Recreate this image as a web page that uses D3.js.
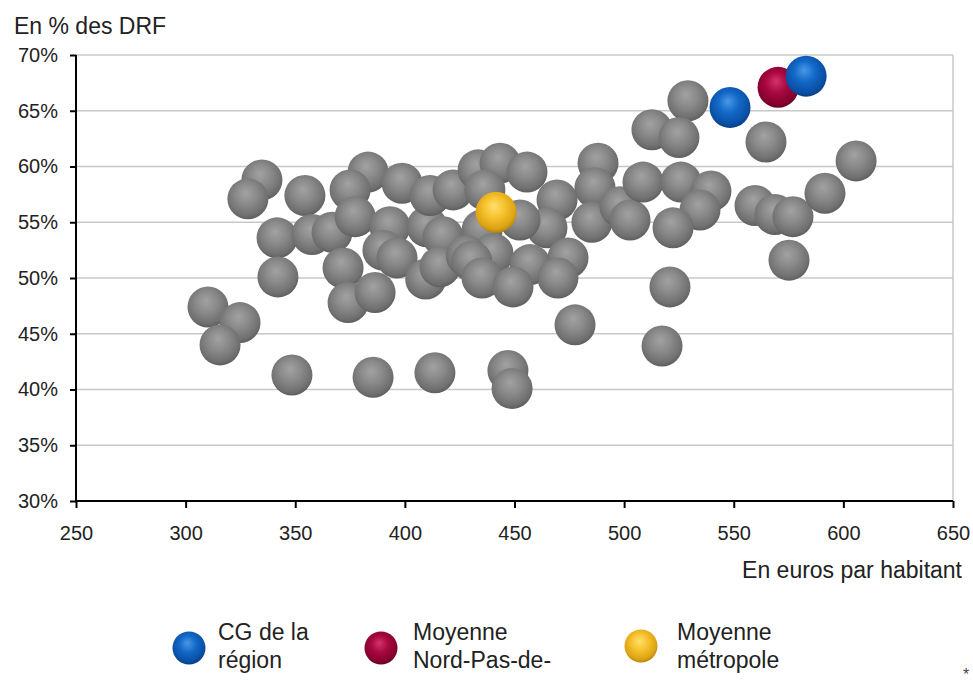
<!DOCTYPE html>
<html><head><meta charset="utf-8">
<script src="https://cdn.jsdelivr.net/npm/d3@7"></script>
<style>
html,body{margin:0;padding:0;background:#fff;}
svg{display:block;font-family:"Liberation Sans",Arial,sans-serif;}
</style></head>
<body><svg id="chart" width="973" height="683"></svg>
<script>
// ---- data ----
const xTicks = [250,300,350,400,450,500,550,600,650];
const yTicks = [0.30,0.35,0.40,0.45,0.50,0.55,0.60,0.65,0.70];
const yTitle = "En % des DRF";
const xTitle = "En euros par habitant";

// other departments (grey)
const grayX = [310.2,324.8,315.7,334.8,328.4,354.4,341.7,342.1,348.5,357.6,366.8,371.8,374.1,386.4,383.2,375.0,377.3,385.5,393.2,390.0,396.4,398.7,409.5,413.7,410.1,
  411.5,422.0,433.4,443.4,455.7,436.5,469.4,464.8,488.1,486.7,485.3,498.1,502.7,508.6,417.4,435.2,452.5,474.4,440.2,457.1,416.0,428.0,430.5,435.2,449.3,469.8,477.6,447.0,448.9,
  512.7,529.1,525.0,564.7,605.8,525.9,539.6,534.6,522.3,559.7,568.8,577.0,591.6,575.2,520.9,517.3];
const grayY = [47.4,46.0,44.0,58.8,57.1,57.4,53.6,50.1,41.3,53.9,54.1,50.9,47.8,48.7,59.5,57.9,55.5,41.1,54.6,52.5,51.8,58.5,49.9,41.5,54.6,
  57.4,57.9,59.7,60.3,59.5,57.9,57.0,54.5,60.3,58.1,55.0,56.4,55.2,58.6,53.7,54.3,55.2,51.8,52.2,51.2,51.0,52.0,51.5,50.0,49.2,50.0,45.8,41.7,40.1,
  63.3,65.9,62.6,62.2,60.5,58.6,57.8,56.1,54.5,56.5,55.7,55.5,57.6,51.6,49.2,43.9];
// CG de la région (blue)
const regionX = [583.0,548.3];
const regionY = [68.1,65.3];
// Moyenne Nord-Pas-de-Calais (red)
const npdcX = [570.2];
const npdcY = [67.1];
// Moyenne métropole (yellow)
const metroX = [441.6];
const metroY = [55.9];

const legendLabels = [["CG de la","région"],["Moyenne","Nord-Pas-de-"],["Moyenne","métropole"]];

// ---- drawing ----
const svg = d3.select("#chart");
const x = d3.scaleLinear().domain([250,650]).range([76,953]);
const y = d3.scaleLinear().domain([0.30,0.70]).range([501,55]);
const R = 20.5;

const defs = svg.append("defs");
function grad(id, stops){
  const g = defs.append("radialGradient").attr("id",id)
    .attr("cx","48%").attr("cy","42%").attr("r","58%").attr("fx","45%").attr("fy","35%");
  stops.forEach(s=>g.append("stop").attr("offset",s[0]).attr("stop-color",s[1]));
}
grad("gGray",[["0%","#a2a2a2"],["45%","#8a8a8a"],["85%","#707070"],["100%","#5e5e5e"]]);
grad("gBlue",[["0%","#4a98e6"],["45%","#1268c8"],["85%","#0a4fa4"],["100%","#083e86"]]);
grad("gRed",[["0%","#d4336a"],["45%","#a8083f"],["85%","#86002e"],["100%","#680022"]]);
grad("gYel",[["0%","#ffe070"],["45%","#f6c22c"],["85%","#dca214"],["100%","#b8860a"]]);

// gridlines
svg.append("g").selectAll("line").data(yTicks.filter(d=>d>0.30)).join("line")
  .attr("x1",76).attr("x2",953).attr("y1",d=>y(d)).attr("y2",d=>y(d))
  .attr("stroke","#c8c8c8").attr("stroke-width",1.5);
// right border
svg.append("line").attr("x1",953).attr("x2",953).attr("y1",y(0.70)).attr("y2",y(0.30))
  .attr("stroke","#c8c8c8").attr("stroke-width",1.5);

// axes
const yAxis = d3.axisLeft(y).tickValues(yTicks).tickFormat(d=>Math.round(d*100)+"%").tickSize(6).tickPadding(12);
const gy = svg.append("g").attr("transform","translate(76,0)").call(yAxis);
const xAxis = d3.axisBottom(x).tickValues(xTicks).tickFormat(d3.format("d")).tickSize(7).tickPadding(18);
const gx = svg.append("g").attr("transform","translate(0,501)").call(xAxis);
[gx,gy].forEach(g=>{
  g.select(".domain").attr("stroke","#000").attr("stroke-width",2);
  g.selectAll(".tick line").attr("stroke","#000").attr("stroke-width",2);
  g.selectAll(".tick text").attr("fill","#222").attr("font-size",20).attr("font-family","Liberation Sans, Arial, sans-serif");
});
gx.select(".domain").attr("d","M76,0H953");
gy.select(".domain").attr("d","M0,55V501");

// titles
svg.append("text").attr("x",14).attr("y",34).attr("font-size",23).attr("fill","#222").text(yTitle);
svg.append("text").attr("x",962).attr("y",578).attr("text-anchor","end").attr("font-size",23).attr("fill","#222").text(xTitle);

// bubbles
function bubbles(xs, ys, fill){
  svg.append("g").selectAll("circle").data(xs.map((v,i)=>[v,ys[i]])).join("circle")
    .attr("cx",d=>x(d[0])).attr("cy",d=>y(d[1]/100)).attr("r",R)
    .attr("fill",`url(#${fill})`);
}
bubbles(grayX, grayY, "gGray");
bubbles(metroX, metroY, "gYel");
bubbles(npdcX, npdcY, "gRed");
bubbles(regionX, regionY, "gBlue");

// legend
const legendItems = [
  {cx:189, cy:648, fill:"gBlue", tx:218, lines:legendLabels[0]},
  {cx:381, cy:648, fill:"gRed", tx:413, lines:legendLabels[1]},
  {cx:641, cy:646, fill:"gYel", tx:677, lines:legendLabels[2]}
];
const lg = svg.append("g");
legendItems.forEach(it=>{
  lg.append("ellipse").attr("cx",it.cx).attr("cy",it.cy).attr("rx",16.5).attr("ry",16.5).attr("fill",`url(#${it.fill})`);
  const t = lg.append("text").attr("x",it.tx).attr("y",640).attr("font-size",23).attr("fill","#222");
  it.lines.forEach((l,i)=>t.append("tspan").attr("x",it.tx).attr("dy",i===0?0:28).text(l));
});
svg.append("text").attr("x",963).attr("y",680).attr("font-size",16).attr("fill","#444").text("*");
</script>
</body></html>
